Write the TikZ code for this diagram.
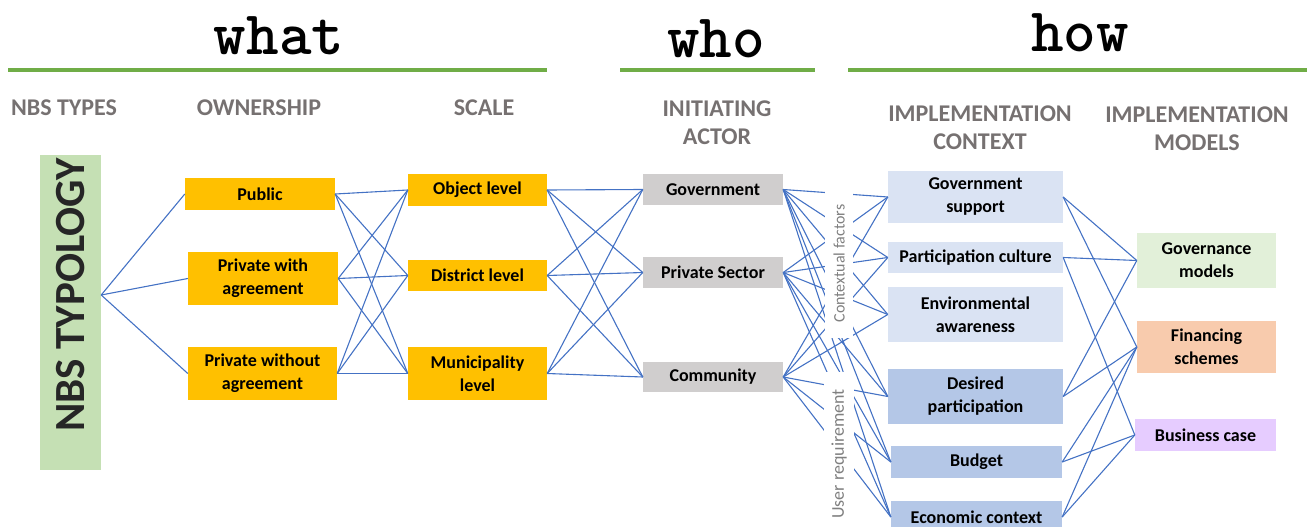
\documentclass[tikz,border=0pt]{standalone}
\usepackage{fontspec}
\setmainfont{Carlito}
\usepackage{xcolor}
\usepackage{tikz}

\definecolor{linkblue}{HTML}{4472C4}
\definecolor{rulegreen}{HTML}{70AD47}
\definecolor{headgray}{HTML}{767171}
\definecolor{sidegray}{HTML}{808080}
\definecolor{nbsgreen}{HTML}{C5E0B4}
\definecolor{ownorange}{HTML}{FFC000}
\definecolor{actorgray}{HTML}{D0CECE}
\definecolor{ctxlight}{HTML}{DAE3F3}
\definecolor{ctxdark}{HTML}{B4C7E7}
\definecolor{modgreen}{HTML}{E2F0D9}
\definecolor{modorange}{HTML}{F8CBAD}
\definecolor{modviolet}{HTML}{E6CCFF}

\begin{document}
\begin{tikzpicture}[x=1pt, y=-1pt,
  box/.style={rectangle, inner sep=0pt, align=center, text=black, font=\fontsize{18}{23}\selectfont\bfseries},
  link/.style={draw=linkblue, line width=1.1pt},
  head/.style={align=center, text=headgray, font=\fontsize{24}{28}\selectfont\bfseries},
  toptitle/.style={anchor=base, inner sep=0pt, font=\fontsize{62}{62}\selectfont\ttfamily\bfseries},
  greenrule/.style={draw=rulegreen, line width=4pt},
  sidelabel/.style={rotate=90, fill=white, inner sep=0pt, text=sidegray}]
\useasboundingbox (0,0) rectangle (1307,527);

% Titles - what / who / how
\node[toptitle] (what) at (279,55) {what};
\node[toptitle] (who) at (716,58) {who};
\node[toptitle] (how) at (1080,52) {how};
\draw[greenrule] (8,70) -- (547,70);
\draw[greenrule] (620,70) -- (815,70);
\draw[greenrule] (848,70) -- (1307,70);

% Column headers
\node[head] (hnbs) at (64,108) {NBS TYPES};
\node[head] (hown) at (259,108) {OWNERSHIP};
\node[head] (hscale) at (484,108) {SCALE};
\node[head] (hactor) at (717,123) {INITIATING\\ACTOR};
\node[head] (hctx) at (980,127.5) {IMPLEMENTATION\\CONTEXT};
\node[head] (hmod) at (1197,128.5) {IMPLEMENTATION\\MODELS};

% NBS typology
\node[rectangle, fill=nbsgreen, minimum width=61pt, minimum height=315pt] (nbs) at (70.5,312.5) {};
\node[rotate=90, text=black!85, font=\fontsize{43}{43}\selectfont\bfseries] (nbslbl) at (71,295) {NBS TYPOLOGY};
\coordinate (nbsout) at (nbs.east |- nbslbl.center);

% Ownership
\node[box, fill=ownorange, minimum width=150pt, minimum height=32pt] (pub) at (260,194) {Public};
\node[box, fill=ownorange, minimum width=150pt, minimum height=53pt] (pwith) at (263,278.5) {Private with\\agreement};
\node[box, fill=ownorange, minimum width=149pt, minimum height=53pt] (pwo) at (262.5,373.5) {Private without\\agreement};

% Scale
\node[box, fill=ownorange, minimum width=139pt, minimum height=32pt] (obj) at (477.5,190) {Object level};
\node[box, fill=ownorange, minimum width=139pt, minimum height=31pt] (dist) at (477.5,275.5) {District level};
\node[box, fill=ownorange, minimum width=139pt, minimum height=53pt] (muni) at (477.5,373.5) {Municipality\\level};

% Initiating actor
\node[box, fill=actorgray, minimum width=140pt, minimum height=31pt] (gov) at (713,189.5) {Government};
\node[box, fill=actorgray, minimum width=140pt, minimum height=31pt] (priv) at (713,272.5) {Private Sector};
\node[box, fill=actorgray, minimum width=140pt, minimum height=30pt] (comm) at (713,377) {Community};

% Implementation context
\node[box, fill=ctxlight, minimum width=175pt, minimum height=52pt] (gsup) at (975.5,197) {Government\\support};
\node[box, fill=ctxlight, minimum width=175pt, minimum height=31pt] (pcult) at (975.5,257.5) {Participation culture};
\node[box, fill=ctxlight, minimum width=175pt, minimum height=55pt] (env) at (975.5,314.5) {Environmental\\awareness};
\node[box, fill=ctxdark, minimum width=175pt, minimum height=55pt] (dpart) at (975.5,396.5) {Desired\\participation};
\node[box, fill=ctxdark, minimum width=171pt, minimum height=32pt] (budget) at (976.5,462) {Budget};
\node[box, fill=ctxdark, minimum width=171pt, minimum height=32pt] (econ) at (976.5,517) {Economic context};

% Implementation models
\node[box, fill=modgreen, minimum width=139pt, minimum height=55pt] (govm) at (1206.5,260.5) {Governance\\models};
\node[box, fill=modorange, minimum width=139pt, minimum height=52pt] (fin) at (1206.5,347) {Financing\\schemes};
\node[box, fill=modviolet, minimum width=141pt, minimum height=32pt] (bcase) at (1205.5,435) {Business case};

% Links
\foreach \o in {pub,pwith,pwo} \draw[link] (nbsout) -- (\o.west);
\foreach \o in {pub,pwith,pwo} \foreach \s in {obj,dist,muni} \draw[link] (\o.east) -- (\s.west);
\foreach \s in {obj,dist,muni} \foreach \a in {gov,priv,comm} \draw[link] (\s.east) -- (\a.west);
\foreach \a in {gov,priv,comm} \foreach \c in {gsup,pcult,env,dpart,budget,econ} \draw[link] (\a.east) -- (\c.west);
\foreach \c/\m in {gsup/govm, gsup/fin, pcult/govm, pcult/bcase, dpart/govm, dpart/fin, budget/fin, budget/bcase, econ/fin, econ/bcase}
  \draw[link] (\c.east) -- (\m.west);

% Factor labels over the links
\node[sidelabel, minimum width=149pt, minimum height=28pt, font=\fontsize{16}{16}\selectfont] (ctxfac) at (839,263.5) {Contextual factors};
\node[sidelabel, minimum width=164pt, minimum height=30pt, font=\fontsize{18}{18}\selectfont] (usreq) at (839,454) {User requirement};
\end{tikzpicture}
\end{document}
